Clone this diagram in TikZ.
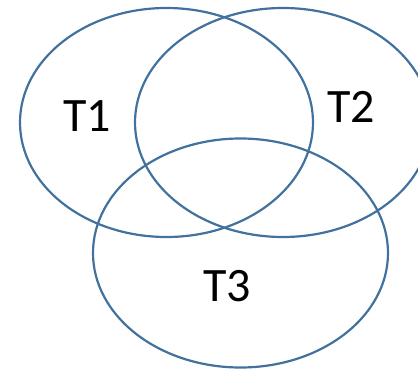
\documentclass[tikz,border=0pt]{standalone}
\usepackage{fontspec}
\setmainfont{Carlito}
\definecolor{vennblue}{HTML}{41719C}
\begin{document}
\begin{tikzpicture}[x=1pt,y=-1pt,
  vennset/.style={draw=vennblue,line width=2.2pt},
  vennlabel/.style={font=\fontsize{48}{52}\selectfont,text=black,inner sep=0pt}]
\useasboundingbox (0,0) rectangle (418,369);
\clip (0,0) rectangle (418,369);
\draw[vennset] (166.5,122.5) ellipse [x radius=146.5, y radius=114.5];
\draw[vennset] (283,122.5) ellipse [x radius=148, y radius=114.5];
\draw[vennset] (240.5,253) ellipse [x radius=147.5, y radius=114.5];
\node[vennlabel] (t1) at (87,116) {T1};
\node[vennlabel] (t2) at (351,107) {T2};
\node[vennlabel] (t3) at (227,286.5) {T3};
\end{tikzpicture}
\end{document}
